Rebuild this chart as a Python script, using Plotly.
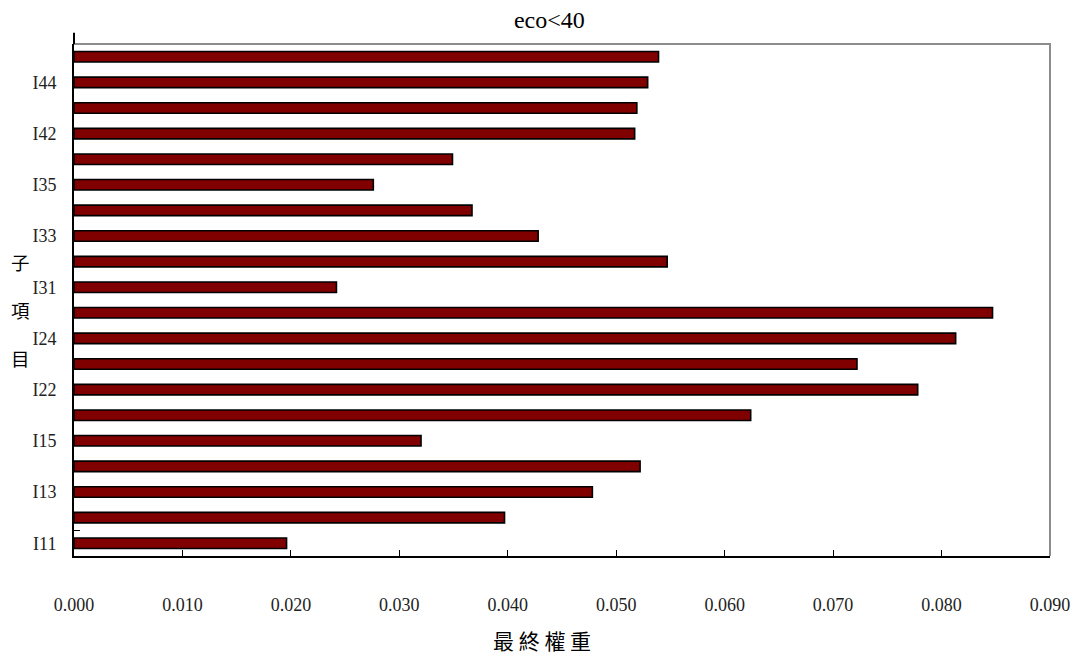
import plotly.graph_objects as go

categories = ["I11", "I12", "I13", "I14", "I15",
              "I21", "I22", "I23", "I24", "I25",
              "I31", "I32", "I33", "I34", "I35",
              "I41", "I42", "I43", "I44", "I45"]
values = [0.0196, 0.0397, 0.0478, 0.0522, 0.0320,
          0.0624, 0.0778, 0.0722, 0.0813, 0.0847,
          0.0242, 0.0547, 0.0428, 0.0367, 0.0276,
          0.0349, 0.0517, 0.0519, 0.0529, 0.0539]
shown_labels = ["I11", "I13", "I15", "I22", "I24", "I31", "I33", "I35", "I42", "I44"]
x_ticks = [0.0, 0.01, 0.02, 0.03, 0.04, 0.05, 0.06, 0.07, 0.08, 0.09]

positions = list(range(len(categories)))
label_pos = [categories.index(c) for c in shown_labels]

serif = "Liberation Serif, Times New Roman, serif"
cjk = "Noto Sans CJK TC, Noto Sans CJK SC, sans-serif"

fig = go.Figure(go.Bar(
    x=values, y=positions, orientation="h", width=0.41,
    marker=dict(color="#800000", line=dict(color="#000000", width=1.6)),
    hovertext=categories,
))

fig.update_layout(
    width=1079, height=659,
    margin=dict(l=66, r=37, t=36, b=111),
    paper_bgcolor="white", plot_bgcolor="white",
    showlegend=False,
    title=dict(text="eco<40", x=0.487, xref="paper", xanchor="center",
               y=1.0, yref="container", yanchor="top",
               pad=dict(t=3, b=0, l=0, r=0),
               font=dict(family=serif, size=24, color="#000000")),
    xaxis=dict(range=[0, 0.09], tickvals=x_ticks, tickformat=".3f",
               showgrid=False, zeroline=False,
               showline=True, linecolor="#000000", linewidth=2,
               ticks="inside", ticklen=6, tickcolor="#000000", tickwidth=1,
               ticklabelstandoff=31,
               tickfont=dict(family=serif, size=18, color="#222222")),
    yaxis=dict(range=[-0.5, 19.5], tickvals=label_pos, ticktext=shown_labels,
               showgrid=False, zeroline=False,
               showline=True, linecolor="#000000", linewidth=2,
               ticks="", ticklabelstandoff=12,
               minor=dict(tick0=0.5, dtick=19, ticks="inside", ticklen=6,
                          tickcolor="#000000", tickwidth=1, showgrid=False),
               tickfont=dict(family=serif, size=18, color="#222222")),
)

# gray top and right frame
fig.add_shape(type="path", xref="x domain", yref="y domain",
              path="M 0 1 L 1 1 L 1 0", line=dict(color="#8c8c8c", width=2))
# left axis line extends slightly above plot area
fig.add_shape(type="line", xref="x domain", yref="y domain",
              x0=0, x1=0, y0=1, y1=1.022, line=dict(color="#000000", width=2))

fig.add_annotation(text="最 終 權 重", xref="paper", yref="paper",
                   x=0.479, y=-0.164, xanchor="center", yanchor="middle",
                   showarrow=False, font=dict(family=cjk, size=21, color="#000000"))
fig.add_annotation(text="子<br><br>項<br><br>目", xref="paper", yref="paper",
                   x=-0.055, y=0.48, xanchor="center", yanchor="middle",
                   showarrow=False, align="center",
                   font=dict(family=cjk, size=18.5, color="#000000"))

fig.write_html("out.html")
